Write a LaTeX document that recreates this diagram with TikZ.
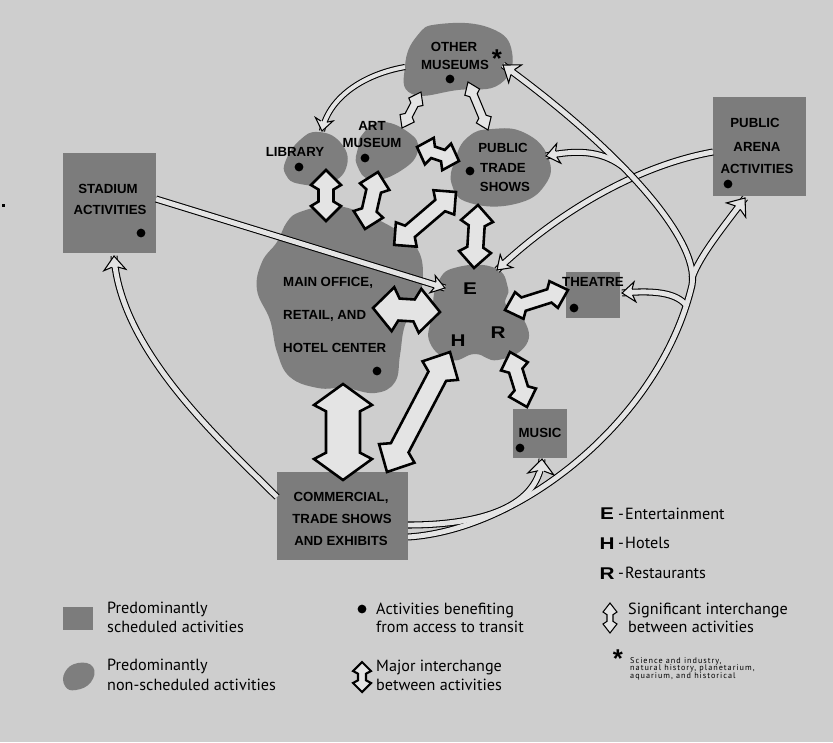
\documentclass[tikz,border=0pt]{standalone}
\usepackage{fontspec}
\setmainfont{Liberation Sans}
\newfontfamily\legfamily{PT Sans}
\newfontfamily\tinyfamily{PT Sans}[LetterSpace=12]
\usetikzlibrary{decorations.markings}
\definecolor{bgc}{RGB}{206,206,206}
\definecolor{blobc}{RGB}{126,126,126}
\definecolor{boxc}{RGB}{124,124,124}
\definecolor{afill}{RGB}{228,228,228}
\newcommand\lblf{\fontsize{11.3}{13}\selectfont\bfseries}
\newcommand\ehrf{\fontsize{14.5}{16}\selectfont\bfseries}
\newcommand\legf{\legfamily\fontsize{13.8}{15}\selectfont}
\newcommand\tinyf{\tinyfamily\fontsize{7}{7}\selectfont}
\newcommand\astf{\fontsize{22}{22}\selectfont\bfseries}
\newcommand\wide[1]{\scalebox{1.22}[1]{#1}}
% hollow double-headed arrow between two named coordinates
\newcommand\hdarrow[6]{%
  \pgfmathanglebetweenpoints{\pgfpointanchor{#2}{center}}{\pgfpointanchor{#3}{center}}%
  \let\hAng\pgfmathresult
  \pgfpointdiff{\pgfpointanchor{#2}{center}}{\pgfpointanchor{#3}{center}}%
  \pgfgetlastxy{\hDx}{\hDy}%
  \pgfmathsetmacro\hLen{veclen(\hDx,\hDy)/0.853584}%
  \pgfmathsetmacro\hK{0.3*#6}%
  \begin{scope}[shift={(#2)}, rotate=\hAng, x=0.03cm, y=0.03cm]
    \draw[#1] (0,0) -- (#6,#5) -- ({#6+\hK},#4) -- ({\hLen-#6-\hK},#4) -- ({\hLen-#6},#5) -- (\hLen,0)
      -- ({\hLen-#6},-#5) -- ({\hLen-#6-\hK},-#4) -- ({#6+\hK},-#4) -- (#6,-#5) -- cycle;
  \end{scope}}
% open arrow head for flow lines (sign, half width, length)
\newcommand\fhead[3]{%
  \fill[afill] (0,0) -- ({-(#1)*(#3)},#2) -- ({-(#1)*0.8*(#3)},3.6) -- ({-(#1)*0.8*(#3)},-3.6) -- ({-(#1)*(#3)},-#2) -- cycle;
  \draw[black, line width=0.9pt, line join=miter] ({-(#1)*0.8*(#3)},3) -- ({-(#1)*(#3)},#2) -- (0,0) -- ({-(#1)*(#3)},-#2) -- ({-(#1)*0.8*(#3)},-3);}
\begin{document}
\begin{tikzpicture}[x=0.03cm,y=-0.03cm,
  fo/.style={draw=black, line width=6pt},
  fi/.style={draw=afill, line width=4.2pt},
  sfo/.style={draw=black, line width=5.2pt},
  sfi/.style={draw=afill, line width=3.4pt},
  maj/.style={draw=black, fill=afill, line width=2.2pt, line join=miter},
  sig/.style={draw=black, fill=afill, line width=0.9pt, line join=miter},
  lab/.style={font=\lblf, inner sep=0pt, text height=8.1pt, text depth=0pt},
  ehr/.style={font=\ehrf, inner sep=0pt, text height=10.4pt, text depth=0pt},
  leg/.style={font=\legf, inner sep=0pt, anchor=west, text height=9.5pt, text depth=0pt},
  tin/.style={font=\tinyf, inner sep=0pt, anchor=west, text height=5pt, text depth=0pt},
  astn/.style={font=\astf, inner sep=0pt, anchor=north},
  dotn/.style={circle, fill=black, inner sep=0pt, minimum size=7.5pt},
  hd/.style 2 args={decoration={markings, mark=at position 1 with {\fhead{1}{#1}{#2}}}, decorate},
]
\fill[bgc] (0,0) rectangle (833,742);
\useasboundingbox (0,0) rectangle (833,742);
\fill[black] (2,204) rectangle (5,207);

% ---------- areas ----------
\fill[boxc] (63,153) rectangle (156,253);   % stadium
\fill[boxc] (713,97) rectangle (806,196);   % public arena
\fill[boxc] (566,272) rectangle (620,318);  % theatre
\fill[boxc] (513,409) rectangle (567,458);  % music
\fill[boxc] (277,472) rectangle (408,560);  % commercial
\fill[blobc] plot[smooth cycle, tension=0.8] coordinates {(417,36) (440,24) (490,28) (512,52) (500,84) (458,90) (412,94) (405,66)};
\fill[blobc] plot[smooth cycle, tension=0.8] coordinates {(286,160) (300,140) (318,132) (340,142) (347,165) (330,183) (300,184) (286,175)};
\fill[blobc] plot[smooth cycle, tension=0.8] coordinates {(362,135) (380,122) (408,132) (418,150) (402,170) (372,180) (357,165) (358,148)};
\fill[blobc] plot[smooth cycle, tension=0.8] coordinates {(455,160) (468,137) (492,129) (525,133) (548,157) (545,185) (515,204) (470,203) (452,185)};
\fill[blobc] plot[smooth cycle, tension=0.7] coordinates {(300,212) (330,206) (360,212) (400,232) (418,250) (423,275) (418,300) (405,325) (400,355) (395,382) (375,393) (345,388) (318,388) (290,377) (277,352) (270,320) (257,290) (262,262) (277,242) (287,222)};
\fill[blobc] plot[smooth cycle, tension=0.8] coordinates {(438,282) (458,267) (495,268) (508,288) (506,305) (524,320) (526,345) (498,360) (475,354) (452,360) (430,343) (432,315)};

% ---------- coordinates ----------
\coordinate (lib-a) at (322,131);
\coordinate (om-a) at (405,67);
\coordinate (am-a) at (402,128);
\coordinate (om-b) at (421,92);
\coordinate (om-c) at (468,82);
\coordinate (pt-a) at (488,130);
\coordinate (am-b) at (417,147);
\coordinate (pt-b) at (459,161);
\coordinate (lib-b) at (326,170);
\coordinate (mo-a) at (326,221);
\coordinate (am-c) at (378,172);
\coordinate (mo-b) at (365,229);
\coordinate (pt-c) at (456,192);
\coordinate (mo-c) at (394,245);
\coordinate (pt-d) at (478,205);
\coordinate (ehr-a) at (474,268);
\coordinate (mo-d) at (373,308);
\coordinate (ehr-b) at (440,312);
\coordinate (ehr-c) at (505,310);
\coordinate (th-a) at (568,290);
\coordinate (ehr-d) at (510,352);
\coordinate (mu-a) at (527,407);
\coordinate (mo-e) at (343,384);
\coordinate (cm-a) at (343,480);
\coordinate (ehr-e) at (450,352);
\coordinate (cm-b) at (387,472);
\coordinate (st-b) at (156,199);
\coordinate (ehr-f) at (445,288);
\coordinate (ar-b) at (713,152);
\coordinate (ehr-g) at (497,270);
\coordinate (cm-c) at (408,537);
\coordinate (j1) at (692,285);
\coordinate (om-d) at (503,65);
\coordinate (j2) at (622,166);
\coordinate (pt-e) at (546,156);
\coordinate (j3) at (692,278);
\coordinate (ar-a) at (745,198);
\coordinate (j4) at (686,305);
\coordinate (th-b) at (622,293);
\coordinate (cm-d) at (408,525);
\coordinate (mu-b) at (542,459);
\coordinate (cm-e) at (277,497);
\coordinate (st-a) at (114,256);
\coordinate (lg-a) at (362,662);
\coordinate (lg-b) at (362,692);
\coordinate (lg-c) at (610,603);
\coordinate (lg-d) at (610,633);

% ---------- flow lines ----------
\def\pthSE{(st-b) -- (ehr-f)}
\def\pthAE{(ar-b) .. controls (640,165) and (560,210) .. (ehr-g)}
\def\pthB{(cm-c) .. controls (520,530) and (660,420) .. (j1) .. controls (700,240) and (620,150) .. (om-d)}
\def\pthBpt{(j2) .. controls (600,150) and (575,150) .. (pt-e)}
\def\pthBar{(j3) .. controls (700,255) and (725,225) .. (ar-a)}
\def\pthBth{(j4) .. controls (676,293) and (655,290) .. (th-b)}
\def\pthMu{(cm-d) .. controls (470,525) and (538,512) .. (mu-b)}
\def\pthSt{(cm-e) .. controls (220,440) and (120,350) .. (st-a)}
\def\pthLO{(lib-a) .. controls (328,100) and (360,75) .. (om-a)}

\draw[fo] \pthAE; \draw[fi] \pthAE;
\draw[fo] \pthSE; \draw[fi] \pthSE;
\draw[fo] \pthB; \draw[fo] \pthBpt; \draw[fo] \pthBar; \draw[fo] \pthBth; \draw[fo] \pthMu; \draw[fo] \pthSt;
\draw[fi] \pthB; \draw[fi] \pthBpt; \draw[fi] \pthBar; \draw[fi] \pthBth; \draw[fi] \pthMu; \draw[fi] \pthSt;
\path[hd={9}{13}] \pthSE;
\path[hd={9}{13}] \pthAE;
\path[hd={11}{15}] \pthB;
\path[hd={10}{13}] \pthBpt;
\path[hd={12}{15}] \pthBar;
\path[hd={10}{13}] \pthBth;
\path[hd={13}{15}] \pthMu;
\path[hd={11}{14}] \pthSt;
\draw[sfo] \pthLO; \draw[sfi] \pthLO;
\path[decoration={markings, mark=at position 0 with {\fhead{-1}{9}{12}}, mark=at position 1 with {\fhead{1}{9}{12}}}, decorate] \pthLO;

% ---------- interchange arrows ----------
\hdarrow{sig}{am-a}{om-b}{4}{8}{11}
\hdarrow{sig}{om-c}{pt-a}{4}{8}{11}
\hdarrow{maj}{am-b}{pt-b}{6}{14}{13}
\hdarrow{maj}{lib-b}{mo-a}{7.5}{15}{15}
\hdarrow{maj}{am-c}{mo-b}{7.5}{15}{15}
\hdarrow{maj}{pt-c}{mo-c}{7.5}{16}{16}
\hdarrow{maj}{pt-d}{ehr-a}{8}{16}{16}
\hdarrow{maj}{mo-d}{ehr-b}{11}{22}{20}
\hdarrow{maj}{ehr-c}{th-a}{7}{14}{15}
\hdarrow{maj}{ehr-d}{mu-a}{7}{14}{15}
\hdarrow{maj}{mo-e}{cm-a}{17}{29}{21}
\hdarrow{maj}{ehr-e}{cm-b}{10}{20}{21}

% ---------- dots ----------
\node[dotn] (d1) at (450,79) {};
\node[dotn] (d2) at (299,167) {};
\node[dotn] (d3) at (365,158) {};
\node[dotn] (d4) at (470,171) {};
\node[dotn] (d5) at (377,371) {};
\node[dotn] (d6) at (141,233) {};
\node[dotn] (d7) at (728,184) {};
\node[dotn] (d8) at (574,308) {};
\node[dotn] (d9) at (520,448) {};

% ---------- labels ----------
\node[lab] (om1) at (454,47) {OTHER};
\node[lab] (om2) at (455,65) {MUSEUMS};
\node[astn] (om3) at (497,50) {*};
\node[lab] (lib) at (295,152) {LIBRARY};
\node[lab] (am1) at (372,126) {ART};
\node[lab] (am2) at (372,143) {MUSEUM};
\node[lab] (pt1) at (503,148) {PUBLIC};
\node[lab] (pt2) at (503,168) {TRADE};
\node[lab] (pt3) at (505,187) {SHOWS};
\node[lab, anchor=west] (mo1) at (283,282) {MAIN OFFICE,};
\node[lab, anchor=west] (mo2) at (283,315) {RETAIL, AND};
\node[lab, anchor=west] (mo3) at (283,348) {HOTEL CENTER};
\node[ehr] (le) at (470,288) {\wide{E}};
\node[ehr] (lh) at (458,340) {\wide{H}};
\node[ehr] (lr) at (498,332) {\wide{R}};
\node[lab] (st1) at (108,189) {STADIUM};
\node[lab] (st2) at (110,210) {ACTIVITIES};
\node[lab] (ar1) at (755,123) {PUBLIC};
\node[lab] (ar2) at (757,147) {ARENA};
\node[lab] (ar3) at (757,169) {ACTIVITIES};
\node[lab] (th) at (593,282) {THEATRE};
\node[lab] (mu) at (540,433) {MUSIC};
\node[lab] (cm1) at (341,497) {COMMERCIAL,};
\node[lab] (cm2) at (342,519) {TRADE SHOWS};
\node[lab] (cm3) at (341,541) {AND EXHIBITS};

% ---------- legend ----------
\fill[boxc] (63,607) rectangle (93,630);
\fill[blobc] plot[smooth cycle, tension=0.8] coordinates {(65,672) (78,663) (93,667) (91,682) (76,690) (65,686)};
\node[leg] (l1) at (107,608) {Predominantly};
\node[leg] (l2) at (107,627) {scheduled activities};
\node[leg] (l3) at (107,665) {Predominantly};
\node[leg] (l4) at (107,685) {non-scheduled activities};
\node[dotn] (ld) at (362,609) {};
\node[leg] (l5) at (376,609) {Activities benefiting};
\node[leg] (l6) at (376,627) {from access to transit};
\hdarrow{maj, line width=1.8pt}{lg-a}{lg-b}{4}{9}{9}
\node[leg] (l7) at (376,666) {Major interchange};
\node[leg] (l8) at (376,685) {between activities};
\node[ehr] (lE) at (607,513) {\wide{E}};
\node[ehr] (lH) at (607,543) {\wide{H}};
\node[ehr] (lR) at (607,573) {\wide{R}};
\node[leg] (l9) at (618,514) {-\kern1pt Entertainment};
\node[leg] (l10) at (618,543) {-\kern1pt Hotels};
\node[leg] (l11) at (618,573) {-\kern1pt Restaurants};
\hdarrow{sig}{lg-c}{lg-d}{3}{7}{9}
\node[leg] (l12) at (628,609) {Significant interchange};
\node[leg] (l13) at (628,627) {between activities};
\node[astn] (ast) at (618,650) {*};
\node[tin] (t1) at (630,661) {Science and industry,};
\node[tin] (t2) at (630,668) {natural history, planetarium,};
\node[tin] (t3) at (630,676) {aquarium, and historical};
\end{tikzpicture}
\end{document}
